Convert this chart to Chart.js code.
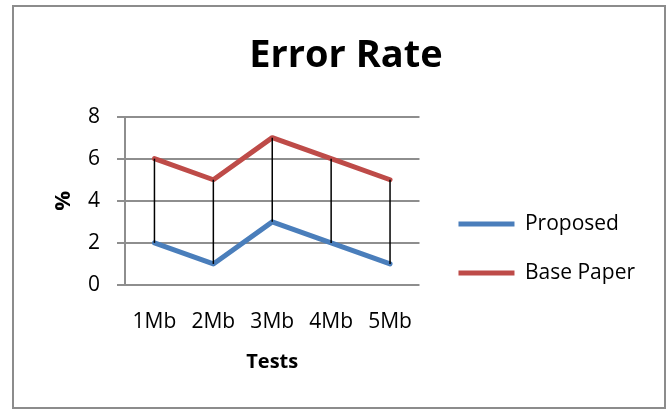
<!DOCTYPE html>
<html>
<head>
<meta charset="utf-8">
<script src="https://cdn.jsdelivr.net/npm/chart.js@4"></script>
<style>
  html, body { margin: 0; padding: 0; background: #fff; }
  #frame {
    position: absolute; left: 12px; top: 5px;
    width: 650px; height: 400px;
    border: 2px solid #8c8c8c;
  }
  #chart { position: absolute; left: 0; top: 0; }
</style>
</head>
<body>
<div id="frame"></div>
<canvas id="chart" width="672" height="410"></canvas>
<script>
// chart data
const categories = ['1Mb', '2Mb', '3Mb', '4Mb', '5Mb'];
const proposed = [2, 1, 3, 2, 1];
const basePaper = [6, 5, 7, 6, 5];
const yMin = 0, yMax = 8, yStep = 2;

const FONT = '"Open Sans", Lato, sans-serif';
const gridGrey = '#8e8e8e';

// black high-low lines joining the two series at each category
const dropLines = {
    id: 'dropLines',
    afterDatasetsDraw(chart) {
        const ctx = chart.ctx;
        const x = chart.scales.x, y = chart.scales.y;
        ctx.save();
        ctx.strokeStyle = '#000';
        ctx.lineWidth = 1.5;
        categories.forEach((c, i) => {
            const px = x.getPixelForValue(i);
            ctx.beginPath();
            ctx.moveTo(px, y.getPixelForValue(basePaper[i]));
            ctx.lineTo(px, y.getPixelForValue(proposed[i]));
            ctx.stroke();
        });
        ctx.restore();
    }
};

new Chart(document.getElementById('chart'), {
    type: 'line',
    data: {
        labels: categories,
        datasets: [
            {
                label: 'Proposed',
                data: proposed,
                borderColor: '#4a7ebb',
                backgroundColor: '#4a7ebb',
                borderWidth: 5,
                borderCapStyle: 'round',
                borderJoinStyle: 'round',
                pointRadius: 0,
                tension: 0
            },
            {
                label: 'Base Paper',
                data: basePaper,
                borderColor: '#be4b48',
                backgroundColor: '#be4b48',
                borderWidth: 5,
                borderCapStyle: 'round',
                borderJoinStyle: 'round',
                pointRadius: 0,
                tension: 0
            }
        ]
    },
    options: {
        responsive: false,
        animation: false,
        layout: { padding: { top: 33, left: 47, right: 27, bottom: 36 } },
        plugins: {
            title: {
                display: true,
                text: 'Error Rate',
                color: '#000',
                font: { family: FONT, size: 38, weight: 'bold' },
                padding: { top: 0, bottom: 38 }
            },
            legend: {
                position: 'right',
                maxWidth: 300,
                // blank legend title only pushes the entries down
                title: { display: true, text: ' ', font: { size: 10 }, padding: { top: 78, bottom: 0 } },
                labels: {
                    color: '#000',
                    font: { family: FONT, size: 21 },
                    usePointStyle: true,
                    pointStyle: 'line',
                    pointStyleWidth: 56,
                    padding: 28
                }
            },
            tooltip: { enabled: false }
        },
        scales: {
            x: {
                offset: true,
                grid: { display: false, drawTicks: false },
                border: { display: false },
                ticks: {
                    color: '#000',
                    padding: 24,
                    font: { family: FONT, size: 21 }
                },
                title: {
                    display: true,
                    text: 'Tests',
                    color: '#000',
                    padding: 0,
                    font: { family: FONT, size: 20, weight: 'bold' }
                },
                afterFit: s => { s.height = 89; }
            },
            y: {
                min: yMin,
                max: yMax,
                grid: { color: gridGrey, lineWidth: 2, tickLength: 8 },
                border: { color: gridGrey, width: 2 },
                ticks: {
                    stepSize: yStep,
                    color: '#000',
                    padding: 17,
                    font: { family: FONT, size: 21 }
                },
                title: {
                    display: true,
                    text: '%',
                    color: '#000',
                    padding: { top: 4, bottom: 0 },
                    font: { family: FONT, size: 22, weight: 'bold' }
                },
                afterFit: s => { s.width = 78; }
            },
            // empty spacer between plot and legend
            gap: {
                type: 'linear',
                position: 'right',
                display: true,
                grid: { display: false, drawTicks: false },
                border: { display: false },
                ticks: { display: false },
                afterFit: s => { s.width = 11; }
            }
        }
    },
    plugins: [dropLines]
});
</script>
</body>
</html>
